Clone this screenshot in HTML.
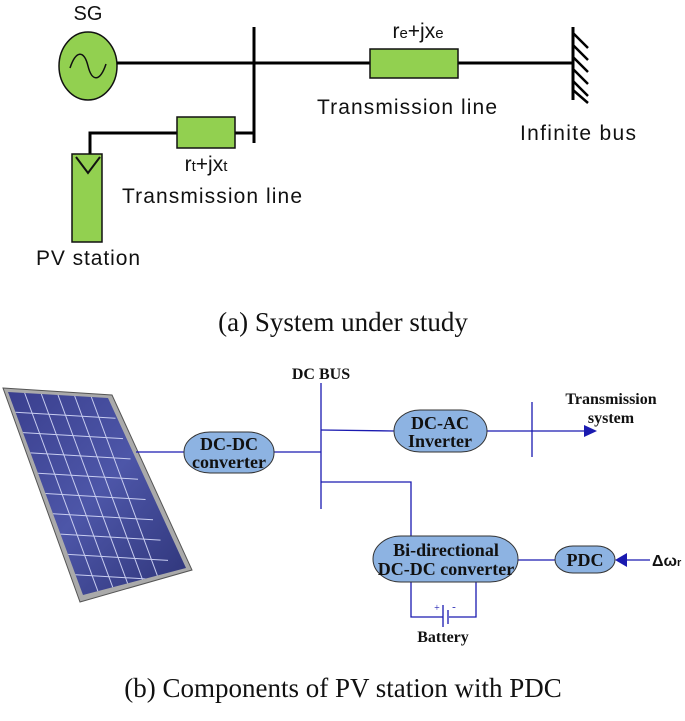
<!DOCTYPE html>
<html><head><style>
html,body{margin:0;padding:0;background:#fff;}
svg{display:block;}
</style></head><body>
<svg width="685" height="721" viewBox="0 0 685 721" xmlns="http://www.w3.org/2000/svg">
<defs>
<linearGradient id="pg" x1="0" y1="0" x2="1" y2="1">
<stop offset="0" stop-color="#3a3f8e"/><stop offset="0.5" stop-color="#4d56a8"/><stop offset="1" stop-color="#2e3478"/>
</linearGradient>
<clipPath id="pc"><polygon points="8,392 108,398 186,568 83,595"/></clipPath>
</defs>
<!-- Part (a) -->
<g font-family="Liberation Sans, sans-serif" fill="#111">
<text x="88" y="20" font-size="20" text-anchor="middle">SG</text>
<ellipse cx="88" cy="66" rx="29" ry="34" fill="#92d050" stroke="#111" stroke-width="1.5"/>
<path d="M70 68 C76 50, 84 50, 88 66 C92 82, 100 82, 106 64" fill="none" stroke="#111" stroke-width="1.5"/>
<line x1="117" y1="63" x2="573" y2="63" stroke="#000" stroke-width="3"/>
<line x1="254" y1="27" x2="254" y2="143" stroke="#000" stroke-width="3"/>
<rect x="370" y="49" width="88" height="29" fill="#92d050" stroke="#111" stroke-width="1.5"/>
<text x="418" y="38" font-size="21" text-anchor="middle">r<tspan font-size="15">e</tspan>+jx<tspan font-size="15">e</tspan></text>
<line x1="573" y1="27" x2="573" y2="100" stroke="#000" stroke-width="3"/>
<g stroke="#000" stroke-width="2.5">
<line x1="573" y1="33" x2="588" y2="48"/><line x1="573" y1="45" x2="588" y2="60"/><line x1="573" y1="57" x2="588" y2="72"/><line x1="573" y1="69" x2="588" y2="84"/><line x1="573" y1="81" x2="588" y2="96"/><line x1="573" y1="90" x2="588" y2="103"/>
</g>
<text x="407" y="114" font-size="21" text-anchor="middle" textLength="180">Transmission line</text>
<text x="578" y="140" font-size="21" text-anchor="middle" textLength="116">Infinite bus</text>
<polyline points="254,133 90,133 90,155" fill="none" stroke="#000" stroke-width="3"/>
<rect x="177" y="117" width="58" height="31" fill="#92d050" stroke="#111" stroke-width="1.5"/>
<text x="206" y="171" font-size="21" text-anchor="middle">r<tspan font-size="15">t</tspan>+jx<tspan font-size="15">t</tspan></text>
<rect x="72" y="154" width="30" height="88" fill="#92d050" stroke="#111" stroke-width="1.5"/>
<polyline points="76,157 88,173 100,157" fill="none" stroke="#111" stroke-width="2"/>
<text x="212" y="203" font-size="21" text-anchor="middle" textLength="180">Transmission line</text>
<text x="88" y="265" font-size="21" text-anchor="middle" textLength="104">PV station</text>
</g>
<text x="343" y="331" font-family="Liberation Serif, serif" font-size="27" text-anchor="middle" fill="#111">(a) System under study</text>

<!-- Part (b) -->
<polygon points="3,388 112,395 192,570 80,602" fill="#aaa" stroke="#555" stroke-width="1"/>
<polygon points="8,392 108,398 186,568 83,595" fill="url(#pg)"/>
<g clip-path="url(#pc)">
<g transform="matrix(1.667,0.1,0.75,2.03,8,392)" stroke="#c8cdf0" fill="none">
<line x1="10" y1="0" x2="10" y2="100" vector-effect="non-scaling-stroke"/><line x1="20" y1="0" x2="20" y2="100" vector-effect="non-scaling-stroke"/><line x1="30" y1="0" x2="30" y2="100" vector-effect="non-scaling-stroke"/><line x1="40" y1="0" x2="40" y2="100" vector-effect="non-scaling-stroke"/><line x1="50" y1="0" x2="50" y2="100" vector-effect="non-scaling-stroke"/>
<line x1="0" y1="10" x2="60" y2="10" vector-effect="non-scaling-stroke"/><line x1="0" y1="20" x2="60" y2="20" vector-effect="non-scaling-stroke"/><line x1="0" y1="30" x2="60" y2="30" vector-effect="non-scaling-stroke"/><line x1="0" y1="40" x2="60" y2="40" vector-effect="non-scaling-stroke"/><line x1="0" y1="50" x2="60" y2="50" vector-effect="non-scaling-stroke"/><line x1="0" y1="60" x2="60" y2="60" vector-effect="non-scaling-stroke"/><line x1="0" y1="70" x2="60" y2="70" vector-effect="non-scaling-stroke"/><line x1="0" y1="80" x2="60" y2="80" vector-effect="non-scaling-stroke"/><line x1="0" y1="90" x2="60" y2="90" vector-effect="non-scaling-stroke"/>
</g>
</g>
<g stroke="#1a1ab0" stroke-width="1.3" fill="none">
<line x1="136" y1="452" x2="184" y2="452"/>
<line x1="274" y1="452" x2="321" y2="452"/>
<line x1="321" y1="383" x2="321" y2="509"/>
<line x1="321" y1="430" x2="394" y2="431"/>
<line x1="487" y1="431" x2="588" y2="431"/>
<line x1="532" y1="402" x2="532" y2="457"/>
<polyline points="321,482 411,482 411,536"/>
<line x1="518" y1="560" x2="555" y2="560"/>
<line x1="624" y1="560" x2="650" y2="560"/>
<polyline points="411,582 411,617 443,617"/>
<polyline points="476,582 476,617 449,617"/>
<line x1="443" y1="605" x2="443" y2="627"/>
<line x1="448" y1="610" x2="448" y2="624"/>
</g>
<polygon points="597,431 584,425 584,437" fill="#1a1ab0"/>
<polygon points="615,560 627,553 627,567" fill="#1a1ab0"/>
<g fill="#8db3e2" stroke="#333" stroke-width="1">
<rect x="184" y="432" width="90" height="41" rx="26" ry="20"/>
<rect x="394" y="410" width="93" height="42" rx="26" ry="21"/>
<rect x="373" y="536" width="145" height="46" rx="28" ry="23"/>
<rect x="555" y="546" width="60" height="27" rx="18" ry="13.5"/>
</g>
<g font-family="Liberation Serif, serif" font-weight="bold" fill="#111" text-anchor="middle">
<text x="321" y="379" font-size="16">DC BUS</text>
<text x="229" y="450" font-size="18">DC-DC</text>
<text x="229" y="468" font-size="18">converter</text>
<text x="440" y="429" font-size="18">DC-AC</text>
<text x="440" y="447" font-size="18">Inverter</text>
<text x="611" y="404" font-size="16">Transmission</text>
<text x="611" y="423" font-size="16">system</text>
<text x="446" y="556" font-size="18">Bi-directional</text>
<text x="446" y="575" font-size="18">DC-DC converter</text>
<text x="585" y="566" font-size="18">PDC</text>
<text x="443" y="642" font-size="16">Battery</text>
<text x="437" y="611" font-size="10" font-weight="normal" fill="#1a1ab0">+</text>
<text x="454" y="610" font-size="11" font-weight="normal" fill="#1a1ab0">-</text>
</g>
<text x="652" y="566" font-family="Liberation Sans, sans-serif" font-weight="bold" font-size="16" fill="#111">Δω<tspan font-size="11">r</tspan></text>
<text x="343" y="697" font-family="Liberation Serif, serif" font-size="27" text-anchor="middle" fill="#111">(b) Components of PV station with PDC</text>
</svg>
</body></html>
